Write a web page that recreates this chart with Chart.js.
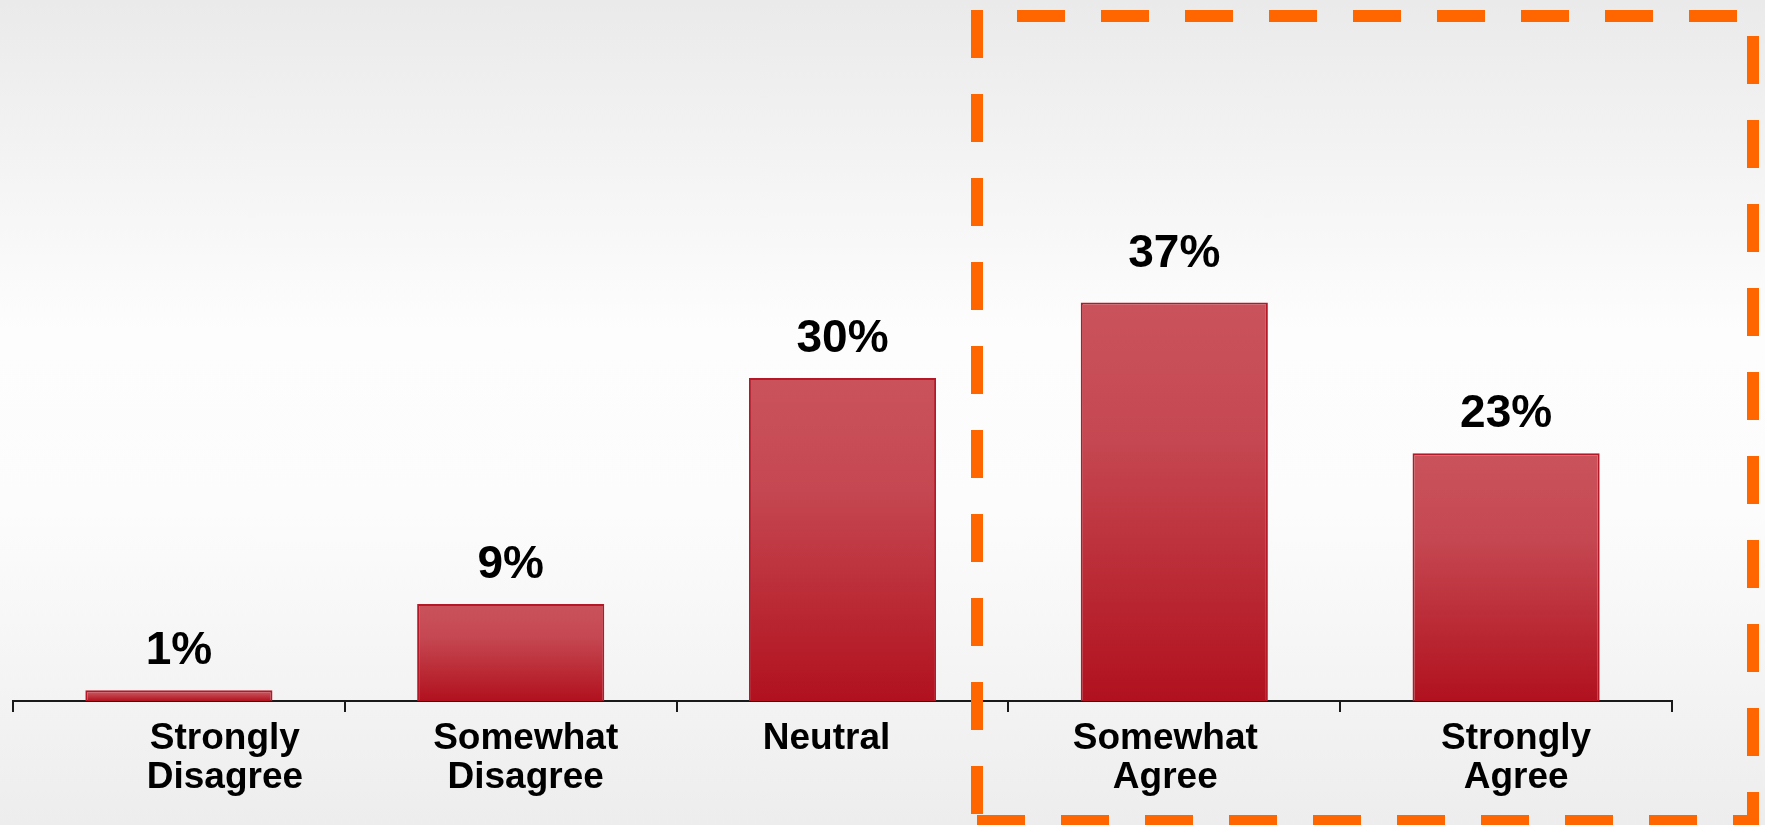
<!DOCTYPE html>
<html>
<head>
<meta charset="utf-8">
<title>Agreement survey</title>
<script src="https://cdn.jsdelivr.net/npm/chart.js@4.4.1/dist/chart.umd.min.js"></script>
<style>
  html, body { margin: 0; padding: 0; }
  body {
    width: 1765px; height: 825px; overflow: hidden;
    background: linear-gradient(to bottom, #eaeaea 0%, #f6f6f6 25%, #fdfdfd 40%, #fcfcfc 62%, #f3f3f3 85%, #ededed 100%);
  }
  canvas { display: block; }
</style>
</head>
<body>
<canvas id="chart" width="1765" height="825"></canvas>
<script>
// Answer categories (each inner array is one line of the axis label)
const categories = [
  ['Strongly', 'Disagree'],
  ['Somewhat', 'Disagree'],
  ['Neutral'],
  ['Somewhat', 'Agree'],
  ['Strongly', 'Agree']
];
// Share of respondents, in percent
const shares = [1, 9, 30, 37, 23];
// Value axis range
const axisMin = 0;
const axisMax = 65;

// Horizontal nudges for the category captions, in pixels
const captionNudge = [46, 15, -16, -9, 10];
// Extra lift for individual value labels, in pixels
const valueLift = [0, 0, 0, 10, 0];

const FONT = '"Liberation Sans", Arial, Helvetica, sans-serif';

// Per-bar vertical gradient: light red at the top, deep red at the base
function barFill(ctx) {
  const chart = ctx.chart;
  if (!chart.chartArea || ctx.parsed === undefined) return '#c0303b';
  const y = chart.scales.y;
  const top = y.getPixelForValue(ctx.parsed.y);
  const base = y.getPixelForValue(0);
  if (!isFinite(top) || !isFinite(base) || base - top < 1) return '#c0303b';
  const g = chart.ctx.createLinearGradient(0, top, 0, base);
  g.addColorStop(0, '#ca535b');
  g.addColorStop(0.35, '#c54751');
  g.addColorStop(0.7, '#ba2a35');
  g.addColorStop(1, '#b1111e');
  return g;
}

// Percent labels above each bar
const valueLabels = {
  id: 'valueLabels',
  afterDatasetsDraw(chart) {
    const ctx = chart.ctx;
    const meta = chart.getDatasetMeta(0);
    ctx.save();
    ctx.font = 'bold 46px ' + FONT;
    ctx.fillStyle = '#000';
    ctx.textAlign = 'center';
    ctx.textBaseline = 'alphabetic';
    meta.data.forEach((bar, i) => {
      ctx.fillText(shares[i] + '%', bar.x, bar.y - 26 - valueLift[i]);
    });
    ctx.restore();
  }
};

// Two-line category captions under the axis
const captions = {
  id: 'captions',
  afterDraw(chart) {
    const ctx = chart.ctx;
    const x = chart.scales.x;
    const axisY = chart.chartArea.bottom;
    ctx.save();
    ctx.font = 'bold 37px ' + FONT;
    ctx.fillStyle = '#000';
    ctx.textAlign = 'center';
    ctx.textBaseline = 'alphabetic';
    categories.forEach((lines, i) => {
      const cx = x.getPixelForValue(i) + captionNudge[i];
      lines.forEach((line, j) => {
        ctx.fillText(line, cx, axisY + 48 + j * 39);
      });
    });
    ctx.restore();
  }
};

// Orange dashed frame around the agreeing answers
const agreeFrame = {
  id: 'agreeFrame',
  afterDraw(chart) {
    const ctx = chart.ctx;
    ctx.save();
    ctx.strokeStyle = '#ff6600';
    ctx.lineWidth = 12;
    ctx.lineCap = 'butt';
    ctx.setLineDash([48, 36]);
    const side = (x1, y1, x2, y2) => {
      ctx.beginPath();
      ctx.moveTo(x1, y1);
      ctx.lineTo(x2, y2);
      ctx.stroke();
    };
    side(977, 10, 977, 827);     // left
    side(1017, 16, 1759, 16);    // top
    side(1753, 36, 1753, 827);   // right
    side(977, 821, 1759, 821);   // bottom
    ctx.restore();
  }
};

new Chart(document.getElementById('chart'), {
  type: 'bar',
  data: {
    labels: categories,
    datasets: [{
      data: shares,
      backgroundColor: barFill,
      borderColor: '#b51827',
      borderWidth: 2,
      categoryPercentage: 1,
      barPercentage: 0.564
    }]
  },
  options: {
    responsive: false,
    animation: false,
    devicePixelRatio: 1,
    layout: { padding: { left: 13, right: 93, top: 1, bottom: 0 } },
    plugins: {
      legend: { display: false },
      tooltip: { enabled: false },
      title: { display: false }
    },
    scales: {
      x: {
        offset: true,
        ticks: { display: false },
        grid: {
          display: true,
          offset: true,
          drawOnChartArea: false,
          drawTicks: true,
          tickLength: 11,
          color: '#1a1a1a',
          lineWidth: 2
        },
        border: { display: true, color: '#1a1a1a', width: 2 },
        afterFit(scale) { scale.height = 124; }
      },
      y: {
        display: false,
        min: axisMin,
        max: axisMax
      }
    }
  },
  plugins: [valueLabels, captions, agreeFrame]
});
</script>
</body>
</html>
